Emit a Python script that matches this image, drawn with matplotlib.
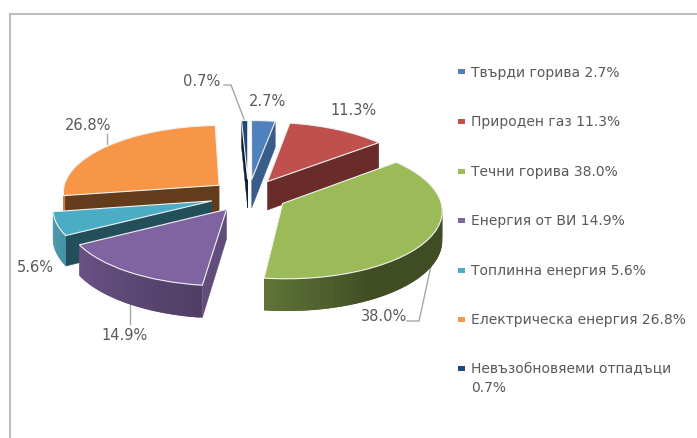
import numpy as np
from matplotlib import pyplot as plt
from matplotlib.patches import Rectangle
from matplotlib.transforms import Transform

# данные
categories = ['Твърди горива', 'Природен газ', 'Течни горива', 'Енергия от ВИ',
              'Топлинна енергия', 'Електрическа енергия', 'Невъзобновяеми отпадъци']
values = [2.7, 11.3, 38.0, 14.9, 5.6, 26.8, 0.7]
colors = ['#4f81bd', '#c0504d', '#9bbb59', '#8064a2', '#4bacc6', '#f79646', '#1f497d']

W, H = 697, 439
CX, CY = 248.5, 196.5  # центр круга на картинке
RX, RY = 157, 67       # полуоси
PERSP = 0.09
DEPTH = 29
EXPLODE = 0.245
TEXT = '#595959'
plt.rcParams['font.family'] = ['DejaVu Sans']


class Tilt(Transform):
  # наклон круга: единицы pie -> пиксели
  input_dims = output_dims = 2

  def transform_non_affine(self, values):
    xy = np.asarray(values, dtype=float)
    w = 1 + PERSP * xy[:, 1]
    return np.column_stack([CX + RX * xy[:, 0] / w, CY - RY * xy[:, 1] / w])


tilt = Tilt()


def project(u, v):
  return tilt.transform_non_affine(np.column_stack([u, v]))


def lower(u, v):
  # нижний край стенки, вблизи чуть выше
  p = project(u, v)
  p[:, 1] += DEPTH / (1 + PERSP * np.asarray(v, dtype=float))
  return p


def shade(color, k):
  c = np.array(plt.matplotlib.colors.to_rgb(color))
  return tuple(c * k)


fig = plt.figure(figsize=(W / 100, H / 100), dpi=100)
ax = fig.add_axes([0, 0, 1, 1])

wedges, _ = ax.pie(values, colors=colors, startangle=90, counterclock=False,
                   explode=[EXPLODE] * len(values),
                   wedgeprops={'edgecolor': '#f2f2f2', 'linewidth': 0.8})
ax.set_aspect('auto')
ax.set_xlim(0, W)
ax.set_ylim(H, 0)
ax.axis('off')
for w in wedges:
  w.set_transform(tilt + ax.transData)

# порядок рисования: сзади вперед
order = [6, 0, 1, 5, 4, 3, 2]
wall_k = {0: 0.72, 1: 0.55, 2: 0.5, 3: 0.76, 4: 0.46, 5: 0.4, 6: 0.4}
for z, i in enumerate(order):
  wedge = wedges[i]
  wedge.set_zorder(3 * z + 3)
  cu, cv = wedge.center
  # углы от верха по часовой
  a1, a2 = np.radians(sorted([90 - wedge.theta1, 90 - wedge.theta2]))
  # радиальные стенки
  for a, visible in ((a1, np.sin(a1) < 0), (a2, np.sin(a2) > 0)):
    if visible:
      us = np.array([cu, cu + np.sin(a)])
      vs = np.array([cv, cv + np.cos(a)])
      q = np.vstack([project(us, vs), lower(us, vs)[::-1]])
      ax.fill(q[:, 0], q[:, 1], color=shade(colors[i], wall_k[i]), lw=0.3, zorder=3 * z + 1)
  # внешняя дуга с градиентом, куски внахлест чтобы не было швов
  t = np.linspace(a1, a2, 60)
  us = cu + np.sin(t)
  vs = cv + np.cos(t)
  for j in range(len(t) - 1):
    tm = 0.5 * (t[j] + t[j + 1])
    if np.cos(tm) < 0:
      k = np.interp(np.degrees(tm), [90, 150, 187, 240, 270], [0.41, 0.41, 0.62, 0.82, 0.85])
      e = min(j + 3, len(t))
      q = np.vstack([project(us[j:e], vs[j:e]), lower(us[j:e], vs[j:e])[::-1]])
      ax.fill(q[:, 0], q[:, 1], color=shade(colors[i], k), lw=0, zorder=3 * z + 2)

# подписи
label_xy = [(268, 102), (354, 111), (384, 317), (125, 336), (35, 268), (88, 126), (202, 82)]
for v, (x, y) in zip(values, label_xy):
  ax.text(x, y, f'{v:.1f}%', color=TEXT, fontsize=10.5, ha='center', va='center', zorder=40)

# линии выноски
leaders = [([224, 231, 244], [86, 86, 120]),
           ([407, 419, 431], [322, 322, 267]),
           ([130, 130], [304, 325]),
           ([107, 107], [135, 145])]
for xs, ys in leaders:
  ax.plot(xs, ys, color='#a6a6a6', lw=1, zorder=2)

# легенда
rows = [72.5, 122, 172, 221, 271, 320, 369]
for name, v, c, y in zip(categories, values, colors, rows):
  ax.add_patch(Rectangle((458, y - 2.5), 7, 5, color=c, lw=0, zorder=40))
  s = f'{name} {v:.1f}%'
  if len(s) > 27:
    s = f'{name}\n{v:.1f}%'
  ax.text(471, y - 7, s, color=TEXT, fontsize=10, ha='left', va='top', linespacing=1.5, zorder=40)

# рамка
ax.plot([10, 10], [H, 15], color='#bfbfbf', lw=1.5, zorder=1)
ax.plot([10, W], [15, 15], color='#bfbfbf', lw=1.5, zorder=1)

fig.savefig('out.png', dpi=100)
